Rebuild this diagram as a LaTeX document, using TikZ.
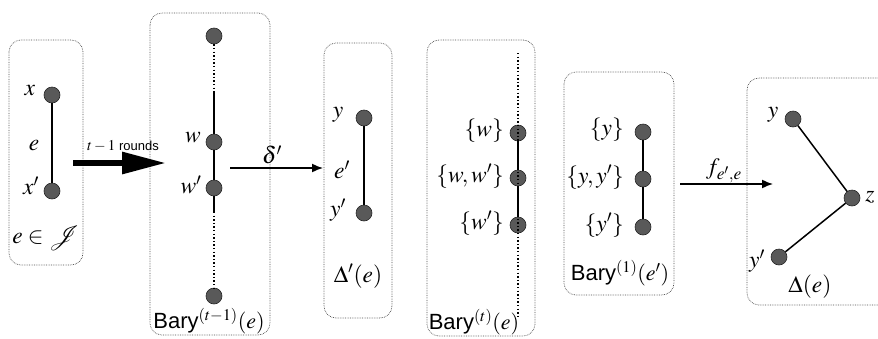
\documentclass[tikz,border=0pt]{standalone}
\usepackage{mathptmx}
\usepackage{mathrsfs}
\usepackage{fontspec}
\setmainfont{Liberation Serif}
\setsansfont{Liberation Sans}
\usetikzlibrary{arrows.meta}

\tikzset{
  panel/.style={draw=black!70, densely dotted, line width=0.7pt, rounded corners=12pt},
  vtx/.style={circle, fill=black!65, draw=black!85, line width=0.6pt,
              minimum size=16pt, inner sep=0pt},
  edge/.style={line width=1.5pt},
  dotedge/.style={line width=1.6pt, dash pattern=on 1.4pt off 2.2pt},
  lbl/.style={font=\fontsize{23.5}{26}\selectfont, inner sep=0pt},
  captxt/.style={font=\fontsize{22}{25}\selectfont, inner sep=0pt},
  mapto/.style={line width=1.5pt, -{Latex[length=11pt,width=9pt]}},
}

\begin{document}
\begin{tikzpicture}[x=1pt, y=-1pt]
\path[use as bounding box] (0,0) rectangle (878,338);
\begin{scope}
\clip (0,0) rectangle (878,338);

% panel frames
\draw[panel] (9,40) rectangle (83,265);
\draw[panel] (150,13) rectangle (270,335);
\draw[panel] (324,43) rectangle (392,318);
\draw[panel] (427,40) rectangle (535,336);
\draw[panel] (564,72) rectangle (674,295);
\draw[panel] (747,78) rectangle (900,305);

% the edge e
\node[vtx] (x)  at (52,95)  {};
\node[vtx] (x2) at (52,191) {};
\draw[edge] (x) -- (x2);
\node[lbl] (lx)  at (30,91)  {$x$};
\node[lbl] (le)  at (34,146) {$e$};
\node[lbl] (lx2) at (31,186) {$x'$};
\node[lbl] (cap1) at (46,238) {$e\in\mathscr{J}$};

% t-1 rounds
\coordinate (r0) at (73,163);
\coordinate (r1) at (166,163);
\draw[line width=6pt, -{Triangle[length=44pt,width=21pt]}] (r0) -- (r1);
\node[inner sep=0pt] (lr) at (123,146)
  {\fontsize{15}{18}\selectfont$t-1$ \fontsize{13}{16}\selectfont\sffamily rounds};

% Bary^{(t-1)}(e)
\node[vtx] (b0) at (214,36)  {};
\node[vtx] (w)  at (214,142) {};
\node[vtx] (w2) at (214,188) {};
\node[vtx] (b1) at (214,296) {};
\coordinate (s0) at (214,92);
\coordinate (s1) at (214,212);
\draw[dotedge] (b0) -- (s0);
\draw[edge] (s0) -- (w) -- (w2) -- (s1);
\draw[dotedge] (s1) -- (b1);
\node[lbl] (lw)  at (193,138) {$w$};
\node[lbl] (lw2) at (191,185) {$w'$};
\node[captxt] (cap2) at (209,321) {\textsf{Bary}$^{(t-1)}(e)$};

% delta'
\coordinate (d0) at (230,168);
\coordinate (d1) at (323,168);
\draw[mapto] (d0) -- (d1);
\node[lbl] (ld) at (272,155) {$\delta'$};

% Delta'(e)
\node[vtx] (y)  at (364,118) {};
\node[vtx] (y2) at (364,213) {};
\draw[edge] (y) -- (y2);
\node[lbl] (ly)  at (338,115) {$y$};
\node[lbl] (le2) at (342,170) {$e'$};
\node[lbl] (ly2) at (338,210) {$y'$};
\node[lbl] (cap3) at (358,276) {$\Delta'(e)$};

% Bary^{(t)}(e)
\node[vtx] (bw)   at (518,133) {};
\node[vtx] (bww)  at (518,178) {};
\node[vtx] (bw2)  at (518,225) {};
\coordinate (t0) at (518,53);
\coordinate (t1) at (518,317);
\draw[edge] (bw) -- (bww) -- (bw2);
\draw[dotedge] (t0) -- (t1);
\node[lbl, anchor=east] (lbw)  at (504,131) {$\{w\}$};
\node[lbl, anchor=east] (lbww) at (504,176) {$\{w,w'\}$};
\node[lbl, anchor=east] (lbw2) at (504,223) {$\{w'\}$};
\node[captxt] (cap4) at (474,322) {\textsf{Bary}$^{(t)}(e)$};

% Bary^{(1)}(e')
\node[vtx] (cy)  at (643,132) {};
\node[vtx] (cyy) at (643,179) {};
\node[vtx] (cy2) at (643,227) {};
\draw[edge] (cy) -- (cyy) -- (cy2);
\node[lbl, anchor=east] (lcy)  at (624,130) {$\{y\}$};
\node[lbl, anchor=east] (lcyy) at (624,177) {$\{y,y'\}$};
\node[lbl, anchor=east] (lcy2) at (624,225) {$\{y'\}$};
\node[captxt] (cap5) at (620,273) {\textsf{Bary}$^{(1)}(e')$};

% f_{e',e}
\coordinate (f0) at (680,184);
\coordinate (f1) at (773,184);
\draw[mapto] (f0) -- (f1);
\node[lbl] (lf) at (724,171) {$f_{e',e}$};

% Delta(e)
\node[vtx] (dy)  at (793,119) {};
\node[vtx] (dz)  at (852,198) {};
\node[vtx] (dy2) at (779,257) {};
\draw[edge] (dy) -- (dz) -- (dy2);
\node[lbl] (ldy)  at (773,115) {$y$};
\node[lbl] (ldz)  at (870,197) {$z$};
\node[lbl] (ldy2) at (757,261) {$y'$};
\node[lbl] (cap6) at (810,287) {$\Delta(e)$};
\end{scope}
\end{tikzpicture}
\end{document}
